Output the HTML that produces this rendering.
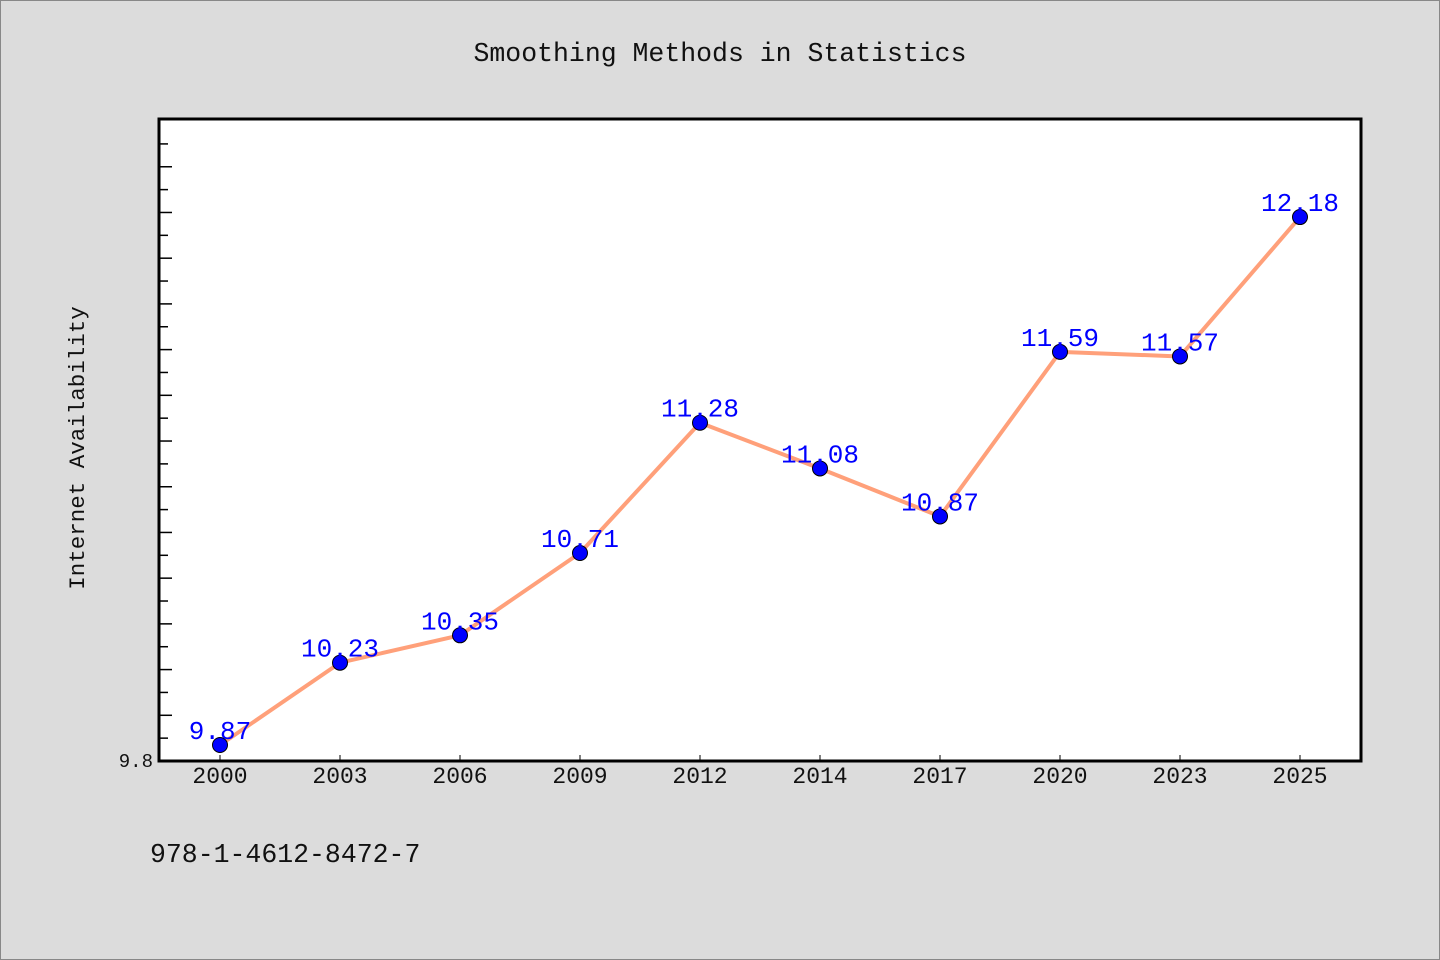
<!DOCTYPE html>
<html><head><meta charset="utf-8"><style>
html,body{margin:0;padding:0;background:#dcdcdc;}
svg{display:block;font-family:"Liberation Mono","WenQuanYi Zen Hei",monospace;}
</style></head><body>
<svg width="1440" height="960">
<rect x="0.5" y="0.5" width="1439" height="959" fill="#dcdcdc" stroke="#888"/>
<text x="720" y="61" text-anchor="middle" font-size="26.5" fill="#111">Smoothing Methods in Statistics</text>
<rect x="159" y="119" width="1202" height="642" fill="#fff" stroke="#000" stroke-width="3"/>
<text transform="translate(84,448) rotate(-90)" text-anchor="middle" font-size="22.5" fill="#111">Internet Availability</text>
<text x="150" y="862" font-size="26.5" fill="#111">978-1-4612-8472-7</text>
<g id="ticks"></g><g id="marks"></g>
</svg>
<script>
const categories=["2000","2003","2006","2009","2012","2014","2017","2020","2023","2025"];
const values=[9.87,10.23,10.35,10.71,11.28,11.08,10.87,11.59,11.57,12.18];
const labels=["9.87","10.23","10.35","10.71","11.28","11.08","10.87","11.59","11.57","12.18"];
const yMin=9.8,yMax=12.609;
const L=159,R=1361,T=119,B=761;
const NS="http://www.w3.org/2000/svg";
function x(i){return 220+i*(1300-220)/(categories.length-1);}
function y(v){return B-(v-yMin)/(yMax-yMin)*(B-T);}
function mk(t,a,p){const e=document.createElementNS(NS,t);for(const k in a)e.setAttribute(k,a[k]);p.appendChild(e);return e;}
const tg=document.getElementById('ticks'),mg=document.getElementById('marks');
for(let k=1;;k++){const v=yMin+k*0.1;if(v>yMax-0.02)break;const yy=y(v);const len=k%2===0?12:8;
const t=mk('line',{x1:L+1,x2:L+1+len,y1:yy,y2:yy,stroke:'#000','stroke-width':1.5},tg);

}
const yl=mk('text',{x:153,y:767,'text-anchor':'end','font-size':19,fill:'#111'},tg);yl.textContent="9.8";


categories.forEach((c,i)=>{
const t=mk('line',{x1:x(i),x2:x(i),y1:B-6,y2:B,stroke:'#000','stroke-width':1},tg);


const l=mk('text',{x:x(i),y:783,'text-anchor':'middle','font-size':23,fill:'#111'},tg);l.textContent=c;


});
const line=mk('polyline',{points:values.map((v,i)=>x(i)+','+y(v)).join(' '),fill:'none',stroke:'#ffa07a','stroke-width':4,'stroke-linejoin':'round'},mg);


values.forEach((v,i)=>{
const c=mk('circle',{cx:x(i),cy:y(v),r:7.5,fill:'#0000ff',stroke:'#000','stroke-width':1},mg);


const t=mk('text',{x:x(i),y:y(v)-6,'text-anchor':'middle','font-size':26,fill:'#0000ff'},mg);t.textContent=labels[i];


});
</script>
</body></html>
